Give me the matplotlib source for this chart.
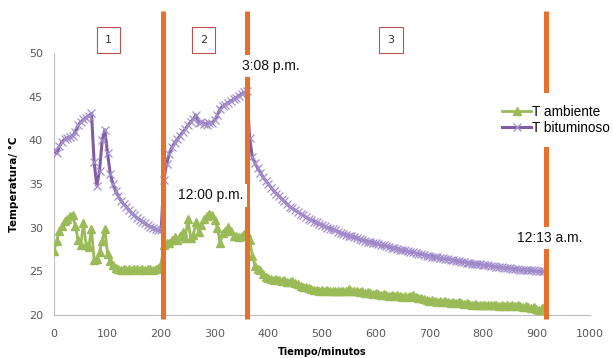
import matplotlib.pyplot as plt

# lecturas cada 5 minutos
minutos = list(range(0, 920, 5))

t_bitum = [
    # 0 - 200
    38.9, 38.5, 39.3, 39.8, 40.1, 40.3, 40.4, 40.5, 41.0, 41.7,
    42.1, 42.4, 42.6, 42.8, 43.1, 37.5, 34.8, 36.5, 40.0, 41.2,
    38.5, 36.2, 35.0, 34.2, 33.6, 33.1, 32.7, 32.4, 32.0, 31.7,
    31.4, 31.1, 30.9, 30.7, 30.5, 30.3, 30.1, 30.0, 29.8, 29.7,
    29.7,
    # 205 - 360
    35.5, 37.3, 38.4, 39.2, 39.7, 40.1, 40.5, 40.9, 41.3, 41.7,
    42.1, 42.4, 42.9, 42.0, 42.1, 41.9, 41.8, 42.0, 42.0, 42.3,
    42.9, 43.6, 43.9, 44.1, 44.3, 44.5, 44.7, 44.9, 45.1, 45.3,
    45.5, 45.6,
    # 365 - 915
    40.3, 38.1, 37.4, 36.8, 36.3, 35.8, 35.4, 35.0, 34.6, 34.2,
    33.9, 33.6, 33.3, 33.0, 32.7, 32.4, 32.2, 32.0, 31.8, 31.6,
    31.4, 31.2, 31.0, 30.9, 30.7, 30.6, 30.4, 30.3, 30.2, 30.0,
    29.9, 29.8, 29.7, 29.5, 29.4, 29.3, 29.2, 29.1, 29.0, 28.9,
    28.8, 28.7, 28.6, 28.5, 28.4, 28.4, 28.3, 28.2, 28.1, 28.0,
    28.0, 27.9, 27.8, 27.7, 27.7, 27.6, 27.5, 27.4, 27.4, 27.3,
    27.2, 27.2, 27.1, 27.0, 27.0, 26.9, 26.8, 26.8, 26.7, 26.7,
    26.6, 26.5, 26.5, 26.4, 26.4, 26.3, 26.3, 26.2, 26.2, 26.1,
    26.1, 26.0, 26.0, 25.9, 25.9, 25.8, 25.8, 25.7, 25.7, 25.7,
    25.6, 25.6, 25.5, 25.5, 25.5, 25.4, 25.4, 25.4, 25.3, 25.3,
    25.3, 25.2, 25.2, 25.2, 25.1, 25.1, 25.1, 25.0, 25.0, 25.0,
    25.0,
]

t_amb = [
    # 0 - 200
    27.3, 28.5, 29.6, 30.2, 30.8, 31.0, 31.3, 31.5, 30.2, 28.6,
    28.0, 30.5, 28.0, 27.8, 29.8, 26.3, 26.4, 27.2, 28.5, 29.8,
    27.0, 26.2, 25.7, 25.4, 25.3, 25.2, 25.3, 25.2, 25.3, 25.2,
    25.3, 25.3, 25.2, 25.3, 25.2, 25.3, 25.3, 25.2, 25.3, 25.4,
    25.8,
    # 205 - 360
    28.0, 28.2, 28.3, 28.6, 28.9, 28.6, 29.0, 29.5, 28.8, 31.0,
    28.8, 29.2, 30.6, 29.5, 30.3, 31.0, 31.3, 31.6, 31.4, 30.9,
    30.0, 28.2, 29.4, 29.6, 30.1, 29.6, 29.1, 29.0, 28.9, 29.0,
    29.3, 29.4,
    # 365 - 915
    28.6, 26.8, 25.6, 25.3, 25.1, 24.7, 24.4, 24.2, 24.1, 24.0,
    24.1, 24.0, 23.9, 24.0, 23.8, 23.8, 23.9, 23.7, 23.5, 23.3,
    23.2, 23.2, 23.1, 23.0, 22.9, 22.9, 22.8, 22.9, 22.8, 22.9,
    22.8, 22.7, 22.8, 22.7, 22.8, 22.7, 22.8, 23.0, 22.8, 22.7,
    22.8, 22.6, 22.7, 22.5, 22.6, 22.5, 22.4, 22.5, 22.4, 22.3,
    22.4, 22.3, 22.2, 22.3, 22.2, 22.3, 22.2, 22.1, 22.2, 22.1,
    22.2, 22.3, 22.1, 22.0, 21.9, 21.8, 21.7, 21.6, 21.7, 21.6,
    21.5, 21.6, 21.5, 21.6, 21.5, 21.4, 21.5, 21.4, 21.5, 21.4,
    21.3, 21.4, 21.3, 21.2, 21.3, 21.2, 21.1, 21.2, 21.1, 21.2,
    21.1, 21.2, 21.1, 21.0, 21.1, 21.0, 21.1, 21.0, 21.1, 21.0,
    21.1, 21.0, 20.9, 21.0, 20.9, 20.8, 20.9, 20.7, 20.6, 20.8,
    20.9,
]

cortes = [203, 361, 918]
etiquetas_zona = ['1', '2', '3']
zona_x = [102, 279, 629]
horas = ['12:00 p.m.', '3:08 p.m.', '12:13 a.m.']
horas_pos = [(292, 33.7), (405, 48.5), (925, 28.8)]

verde = '#9BBB59'
morado = '#7E5FA6'
naranja = '#E8702A'
gris = '#595959'

fig = plt.figure(figsize=(6.13, 3.58), dpi=100)
ax = fig.add_axes([0.088, 0.12, 0.8745, 0.732])

ax.plot(minutos, t_amb, color=verde, lw=2, marker='^', ms=6, mec=verde,
        mfc=verde, label='T ambiente', zorder=3)
ax.plot(minutos, t_bitum, color=morado, lw=2.2, marker='x', ms=6, mew=0.9,
        mec='#A48FCC', label='T bituminoso', zorder=3)

for c in cortes:
    ax.plot([c, c], [19.6, 54.8], color=naranja, lw=3.6, clip_on=False,
            solid_capstyle='butt', zorder=4)

for lab, x in zip(etiquetas_zona, zona_x):
    ax.text(x, 51.5, lab, ha='center', va='center', fontsize=8, color='#333333',
            bbox=dict(boxstyle='square,pad=0.75', fc='white', ec='#B85450', lw=0.8),
            clip_on=False, zorder=5)

for h, (x, y) in zip(horas, horas_pos):
    ax.text(x, y, h, ha='center', va='center', fontsize=10, color='#111111',
            family='Liberation Sans',
            bbox=dict(boxstyle='square,pad=0.3', fc='white', ec='none'),
            clip_on=False, zorder=5)

ax.set_xlim(0, 1000)
ax.set_ylim(20, 50)
ax.set_xticks(range(0, 1001, 100))
ax.set_yticks(range(20, 51, 5))
ax.tick_params(length=0, labelsize=8, colors=gris)
ax.tick_params(axis='x', pad=10)
ax.tick_params(axis='y', pad=8)
for s in ['top', 'right']:
    ax.spines[s].set_visible(False)
for s in ['left', 'bottom']:
    ax.spines[s].set_color('#BFBFBF')

ax.set_xlabel('Tiempo/minutos', fontsize=7, fontweight='bold', labelpad=6)
ax.set_ylabel('Temperatura/ °C', fontsize=7.5, fontweight='bold', labelpad=7)

leg = ax.legend(loc='center left', bbox_to_anchor=(490 / 613, 1 - 120 / 358),
                bbox_transform=fig.transFigure, frameon=True,
                handlelength=2.1, handletextpad=0.1, borderpad=0.9,
                labelspacing=0.15, borderaxespad=0,
                prop={'family': 'Liberation Sans', 'size': 9.8})
leg.get_frame().set_edgecolor('none')
leg.get_frame().set_facecolor('white')
leg.get_frame().set_alpha(1)
leg.get_frame().set_boxstyle('square', pad=0)
leg.set_zorder(6)

fig.savefig('out.png', dpi=100)
